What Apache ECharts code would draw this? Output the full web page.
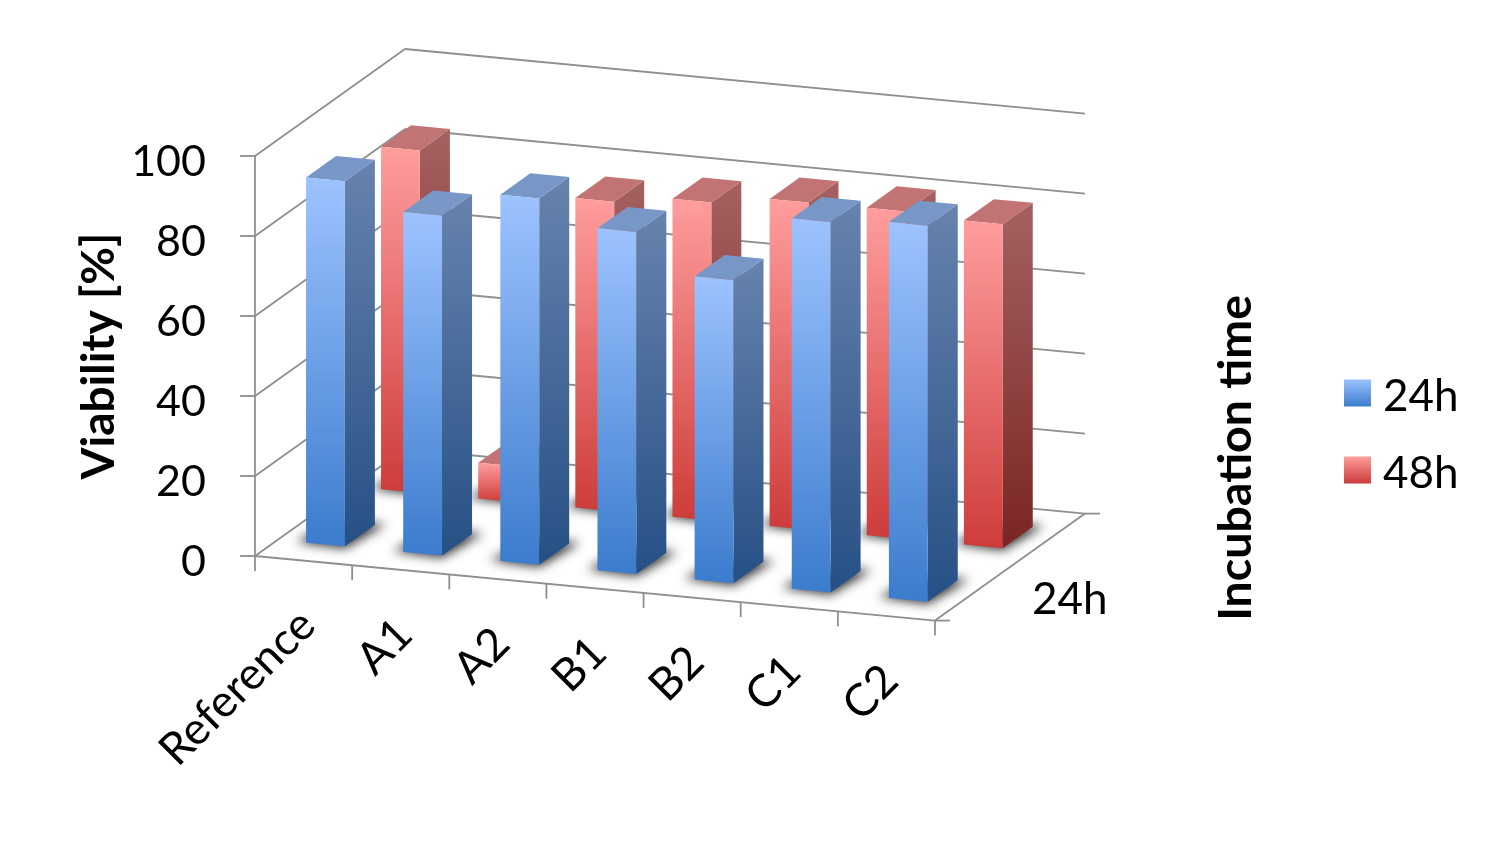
<!DOCTYPE html>
<html>
<head>
<meta charset="utf-8">
<style>
  html, body { margin: 0; padding: 0; background: #fff; }
  #chart { width: 1490px; height: 864px; }
</style>
<script src="https://cdn.jsdelivr.net/npm/echarts@6/dist/echarts.min.js"></script>
</head>
<body>
<div id="chart"></div>
<script>
const categories = ['Reference', 'A1', 'A2', 'B1', 'B2', 'C1', 'C2']
const values24h = [91.3, 85, 91.6, 85.5, 75.8, 92.6, 94]
const values48h = [85.6, 8.9, 77.4, 79.5, 81.8, 81.9, 81]
const yTicks = [0, 20, 40, 60, 80, 100]
const depthLabels = ['24h']

// oblique projection of the box, in pixels
const SLOPE = 0.095 // floor falls to the right
const DEPTH_X = 150
const DEPTH_Y = 107
const ROWS = 2
const FONT = 'Lato, "Open Sans", sans-serif'
const LINE = '#8f8f8f'
const LINE_W = 1.8
const SHADOW_SHIFT = 3000 // shape sits off canvas, only its blur lands on the floor

const palette = {
  blue: { frontTop: '#9dc3ff', frontBottom: '#3b7ccd', sideTop: '#6783ad', sideBottom: '#265085', top: '#7896c6' },
  red: { frontTop: '#ff9d9d', frontBottom: '#cd3c3a', sideTop: '#a56161', sideBottom: '#7a2523', top: '#c27474' }
}

const vGrad = (a, b) => ({
  type: 'linear', x: 0, y: 0, x2: 0, y2: 1,
  colorStops: [{ offset: 0, color: a }, { offset: 1, color: b }]
})

// x in grid pixels, value pixel y from the axis, depth 0..1 going back
function proj(api, x, yPx, depth) {
  const x0 = api.coord([0, 0])[0] - api.size([1, 0])[0] / 2
  return [x + depth * DEPTH_X, yPx + (x - x0) * SLOPE - depth * DEPTH_Y]
}

function poly(points, style) {
  return { type: 'polygon', shape: { points }, style }
}

function line(a, b) {
  return {
    type: 'line',
    shape: { x1: a[0], y1: a[1], x2: b[0], y2: b[1] },
    style: { stroke: LINE, lineWidth: LINE_W, fill: null }
  }
}

// the corners of one bar
function barCorners(api, idx, val, row) {
  const band = api.size([1, 0])[0]
  const w = band * 0.4
  const cx = api.coord([idx, 0])[0] - 0.6
  const x1 = cx - w / 2
  const x2 = cx + w / 2
  const d1 = (row + 0.3) / ROWS
  const d2 = (row + 0.7) / ROWS
  const y0 = api.coord([idx, 0])[1]
  const yv = api.coord([idx, val])[1]
  return {
    fb1: proj(api, x1, y0, d1), fb2: proj(api, x2, y0, d1),
    bb1: proj(api, x1, y0, d2), bb2: proj(api, x2, y0, d2),
    ft1: proj(api, x1, yv, d1), ft2: proj(api, x2, yv, d1),
    bt1: proj(api, x1, yv, d2), bt2: proj(api, x2, yv, d2)
  }
}

const barRender = (row, colors) => (params, api) => {
  const c = barCorners(api, api.value(0), api.value(1), row)
  return {
    type: 'group',
    children: [
      poly([c.fb2, c.bb2, c.bt2, c.ft2], { fill: vGrad(colors.sideTop, colors.sideBottom) }),
      poly([c.ft1, c.ft2, c.bt2, c.bt1], { fill: colors.top }),
      poly([c.fb1, c.fb2, c.ft2, c.ft1], { fill: vGrad(colors.frontTop, colors.frontBottom) })
    ]
  }
}

// soft shadow around the foot of a bar
const shadowRender = (row) => (params, api) => {
  const c = barCorners(api, api.value(0), 0, row)
  const pts = [
    [c.fb1[0] - 10, c.fb1[1] - 1],
    [c.fb2[0], c.fb2[1] + 2],
    [c.bb2[0] + 11, c.bb2[1] - 1],
    [c.bb1[0], c.bb1[1]]
  ].map((p) => [p[0] - SHADOW_SHIFT, p[1]])
  return poly(pts, {
    fill: '#000',
    shadowBlur: 11,
    shadowOffsetX: SHADOW_SHIFT,
    shadowColor: 'rgba(45,45,45,1)'
  })
}

// gridlines on the left and back walls
function wallRender(params, api) {
  const band = api.size([1, 0])[0]
  const x0 = api.coord([0, 0])[0] - band / 2
  const x1 = x0 + band * categories.length
  const y = api.coord([0, api.value(0)])[1]
  return {
    type: 'group',
    children: [
      line(proj(api, x0, y, 0), proj(api, x0, y, 1)),
      line(proj(api, x0, y, 1), proj(api, x1, y, 1))
    ]
  }
}

// floor front edge, right edge and their ticks
function floorRender(params, api) {
  const band = api.size([1, 0])[0]
  const x0 = api.coord([0, 0])[0] - band / 2
  const x1 = x0 + band * categories.length
  const y = api.coord([0, 0])[1]
  const kids = [
    line(proj(api, x0, y, 0), proj(api, x1, y, 0)),
    line(proj(api, x1, y, 0), proj(api, x1, y, 1))
  ]
  for (let i = 0; i <= categories.length; i++) {
    const p = proj(api, x0 + band * i, y, 0)
    kids.push(line(p, [p[0], p[1] + 15]))
  }
  for (let r = 0; r <= depthLabels.length; r++) {
    const p = proj(api, x1, y, r / depthLabels.length)
    kids.push(line(p, [p[0] + 15, p[1]]))
  }
  return { type: 'group', children: kids }
}

// category labels follow the sloping floor edge
function labelRender(params, api) {
  const idx = api.value(0)
  const p = proj(api, api.coord([idx, 0])[0], api.coord([idx, 0])[1], 0)
  return {
    type: 'text',
    x: p[0] + 4,
    y: p[1] + 57,
    rotation: Math.PI / 4,
    style: {
      text: categories[idx],
      font: '45px ' + FONT,
      fill: '#000',
      align: 'right',
      verticalAlign: 'middle'
    }
  }
}

function depthLabelRender(params, api) {
  const band = api.size([1, 0])[0]
  const x1 = api.coord([0, 0])[0] - band / 2 + band * categories.length
  const p = proj(api, x1, api.coord([0, 0])[1], 0.5)
  return {
    type: 'text',
    x: p[0] + 22,
    y: p[1] + 33,
    style: {
      text: depthLabels[api.value(0)],
      font: '44px ' + FONT,
      fill: '#000',
      align: 'left',
      verticalAlign: 'middle'
    }
  }
}

const custom = (name, data, renderItem, z, extra) => Object.assign({
  name,
  type: 'custom',
  coordinateSystem: 'cartesian2d',
  clip: false,
  silent: true,
  z,
  data,
  renderItem
}, extra)

const option = {
  animation: false,
  backgroundColor: '#fff',
  textStyle: { fontFamily: FONT },
  grid: { left: 255, top: 156, width: 680, height: 400 },
  legend: {
    orient: 'vertical',
    left: 1339,
    top: 370,
    icon: 'rect',
    itemWidth: 27,
    itemHeight: 27,
    itemGap: 33,
    data: ['24h', '48h'],
    formatter: '{t|{name}}',
    textStyle: {
      rich: {
        t: { fontSize: 44, color: '#000', fontFamily: FONT, padding: [8, 0, 0, 7] }
      }
    }
  },
  graphic: [{
    type: 'text',
    left: 1212,
    top: 295,
    rotation: Math.PI / 2,
    style: { text: 'Incubation time', font: 'bold 46.5px ' + FONT, fill: '#000' }
  }],
  xAxis: { type: 'category', data: categories, show: false },
  yAxis: {
    type: 'value',
    min: 0,
    max: 100,
    interval: 20,
    splitLine: { show: false },
    axisLine: { show: true, lineStyle: { color: LINE, width: LINE_W } },
    axisTick: { show: true, length: 15, lineStyle: { color: LINE, width: LINE_W } },
    axisLabel: {
      margin: 49,
      fontSize: 43,
      color: '#000',
      fontFamily: FONT,
      verticalAlign: 'top',
      lineHeight: 12,
      customValues: yTicks
    },
    name: 'Viability [%]',
    nameLocation: 'middle',
    nameGap: 133,
    nameRotate: 90,
    nameTextStyle: { fontSize: 46, fontWeight: 'bold', color: '#000', fontFamily: FONT }
  },
  series: [
    custom('walls', yTicks.map((v) => [v]), wallRender, 1, { encode: { y: 0 } }),
    custom('shadow48', values48h.map((v, i) => [i, v]), shadowRender(1), 2),
    custom('shadow24', values24h.map((v, i) => [i, v]), shadowRender(0), 2),
    custom('floor', [[0]], floorRender, 3),
    custom('48h', values48h.map((v, i) => [i, v]), barRender(1, palette.red), 4, {
      itemStyle: { color: vGrad(palette.red.frontTop, palette.red.frontBottom) },
      encode: { x: 0, y: 1 }
    }),
    custom('24h', values24h.map((v, i) => [i, v]), barRender(0, palette.blue), 5, {
      itemStyle: { color: vGrad(palette.blue.frontTop, palette.blue.frontBottom) },
      encode: { x: 0, y: 1 }
    }),
    custom('labels', categories.map((c, i) => [i]), labelRender, 6),
    custom('depthLabels', depthLabels.map((c, i) => [i]), depthLabelRender, 6)
  ]
}

const chart = echarts.init(document.getElementById('chart'))
chart.setOption(option)
</script>
</body>
</html>
